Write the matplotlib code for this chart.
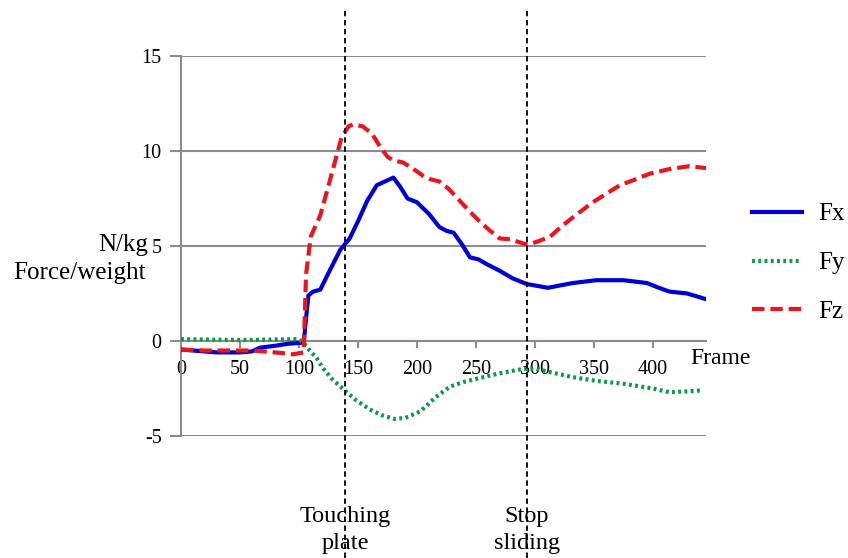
import matplotlib.pyplot as plt
import matplotlib.transforms as mtransforms

plt.rcParams['font.family'] = ['Liberation Serif', 'DejaVu Serif']

# data
fx_frames = [0, 10, 20, 30, 40, 50, 60, 67, 80, 90, 100, 104, 106, 108, 112, 118, 126, 135,
             139, 143, 150, 158, 166, 173, 180, 186, 192, 200, 210, 219, 225, 231, 238, 245,
             252, 259, 270, 281, 293, 311, 332, 352, 375, 395, 405, 414, 429, 445]
fx_vals = [-0.45, -0.5, -0.55, -0.6, -0.6, -0.6, -0.55, -0.35, -0.25, -0.15, -0.1, -0.1, 1.2,
           2.4, 2.6, 2.7, 3.7, 4.8, 5.1, 5.4, 6.3, 7.4, 8.2, 8.4, 8.6, 8.1, 7.5, 7.3, 6.7, 6.0,
           5.8, 5.7, 5.1, 4.4, 4.3, 4.05, 3.7, 3.3, 3.0, 2.8, 3.05, 3.2, 3.2, 3.05, 2.8, 2.6,
           2.5, 2.2]

fy_frames = [0, 50, 100, 104, 109, 115, 120, 128, 137, 148, 160, 170, 181, 190, 203, 215,
             228, 240, 253, 270, 287, 300, 310, 332, 352, 375, 400, 414, 430, 441]
fy_vals = [0.1, 0.05, 0.1, -0.1, -0.5, -0.9, -1.4, -2.0, -2.5, -3.1, -3.6, -3.9, -4.1, -4.05,
           -3.7, -3.0, -2.4, -2.15, -1.95, -1.7, -1.5, -1.45, -1.6, -1.9, -2.1, -2.25, -2.5,
           -2.7, -2.65, -2.6]

fz_frames = [0, 20, 40, 60, 80, 95, 104, 106, 110, 118, 126, 133, 136, 142, 146, 154, 162,
             169, 175, 180, 188, 196, 205, 212, 219, 227, 236, 245, 253, 262, 270, 279, 292,
             296, 305, 313, 322, 332, 349, 372, 385, 397, 414, 431, 445]
fz_vals = [-0.45, -0.5, -0.5, -0.5, -0.6, -0.7, -0.6, 3.5, 5.5, 6.6, 8.4, 10.0, 10.7, 11.3,
           11.4, 11.3, 10.9, 10.2, 9.7, 9.5, 9.4, 9.1, 8.7, 8.5, 8.4, 8.0, 7.4, 6.8, 6.3, 5.8,
           5.4, 5.35, 5.1, 5.1, 5.3, 5.5, 6.0, 6.5, 7.3, 8.2, 8.5, 8.8, 9.05, 9.2, 9.1]

events = [139, 293]
event_labels = ['Touching\nplate', 'Stop\nsliding']
y_ticks = [-5, 0, 5, 10, 15]
x_ticks = [0, 50, 100, 150, 200, 250, 300, 350, 400]

fig = plt.figure(figsize=(8.48, 5.58), dpi=100)
ax = fig.add_axes([181 / 848, 1 - 436 / 558, 525 / 848, 380 / 558])

ax.plot(fx_frames, fx_vals, color='#0000d4', lw=3.0, label='Fx', zorder=3)
ax.plot(fy_frames, fy_vals, color='#0e9a48', lw=3.0, ls=(0, (0.7, 0.8)), label='Fy', zorder=3)
ax.plot(fz_frames, fz_vals, color='#e8171f', lw=3.0, ls=(0, (3.0, 1.4)), label='Fz', zorder=3)

ax.set_xlim(0, 445)
ax.set_ylim(-5, 15)
ax.set_yticks(y_ticks)
ax.set_yticklabels([str(v) for v in y_ticks])
ax.set_xticks(x_ticks)
ax.grid(axis='y', color='#8c8c8c', lw=1.5)
ax.set_axisbelow(True)

for s in ['top', 'right']:
    ax.spines[s].set_visible(False)
ax.spines['bottom'].set_position(('data', 0))
ax.spines['bottom'].set_color('#8c8c8c')
ax.spines['bottom'].set_linewidth(1.5)
ax.spines['left'].set_color('#8c8c8c')
ax.spines['left'].set_linewidth(1.5)
ax.tick_params(axis='y', length=8, width=1.5, color='#8c8c8c', labelsize=14.5, pad=6)
ax.tick_params(axis='x', length=5, width=1.5, color='#8c8c8c', labelsize=14.5, pad=9)

# event lines spanning the figure height
trans = mtransforms.blended_transform_factory(ax.transData, fig.transFigure)
for x, lab in zip(events, event_labels):
    ax.plot([x, x], [0, 0.985], transform=trans, color='black', lw=1.3,
            ls=(0, (3, 2)), clip_on=False, zorder=4)
    ax.text(x, 1 - 530 / 558, lab, transform=trans, ha='center', va='center', fontsize=17.5,
            linespacing=1.4)

fig.text(148 / 848, 1 - 245 / 558, 'N/kg', ha='right', va='center', fontsize=18)
fig.text(13 / 848, 1 - 273 / 558, 'Force/weight', ha='left', va='center', fontsize=18)
fig.text(690 / 848, 1 - 358 / 558, 'Frame', ha='left', va='center', fontsize=17)

fig.legend(loc='upper left', bbox_to_anchor=(752 / 848, 1 - 203 / 558), frameon=False,
           fontsize=18, handlelength=2.0, handletextpad=0.65, labelspacing=1.05,
           borderpad=0, borderaxespad=0)

fig.savefig('out.png', dpi=100)
